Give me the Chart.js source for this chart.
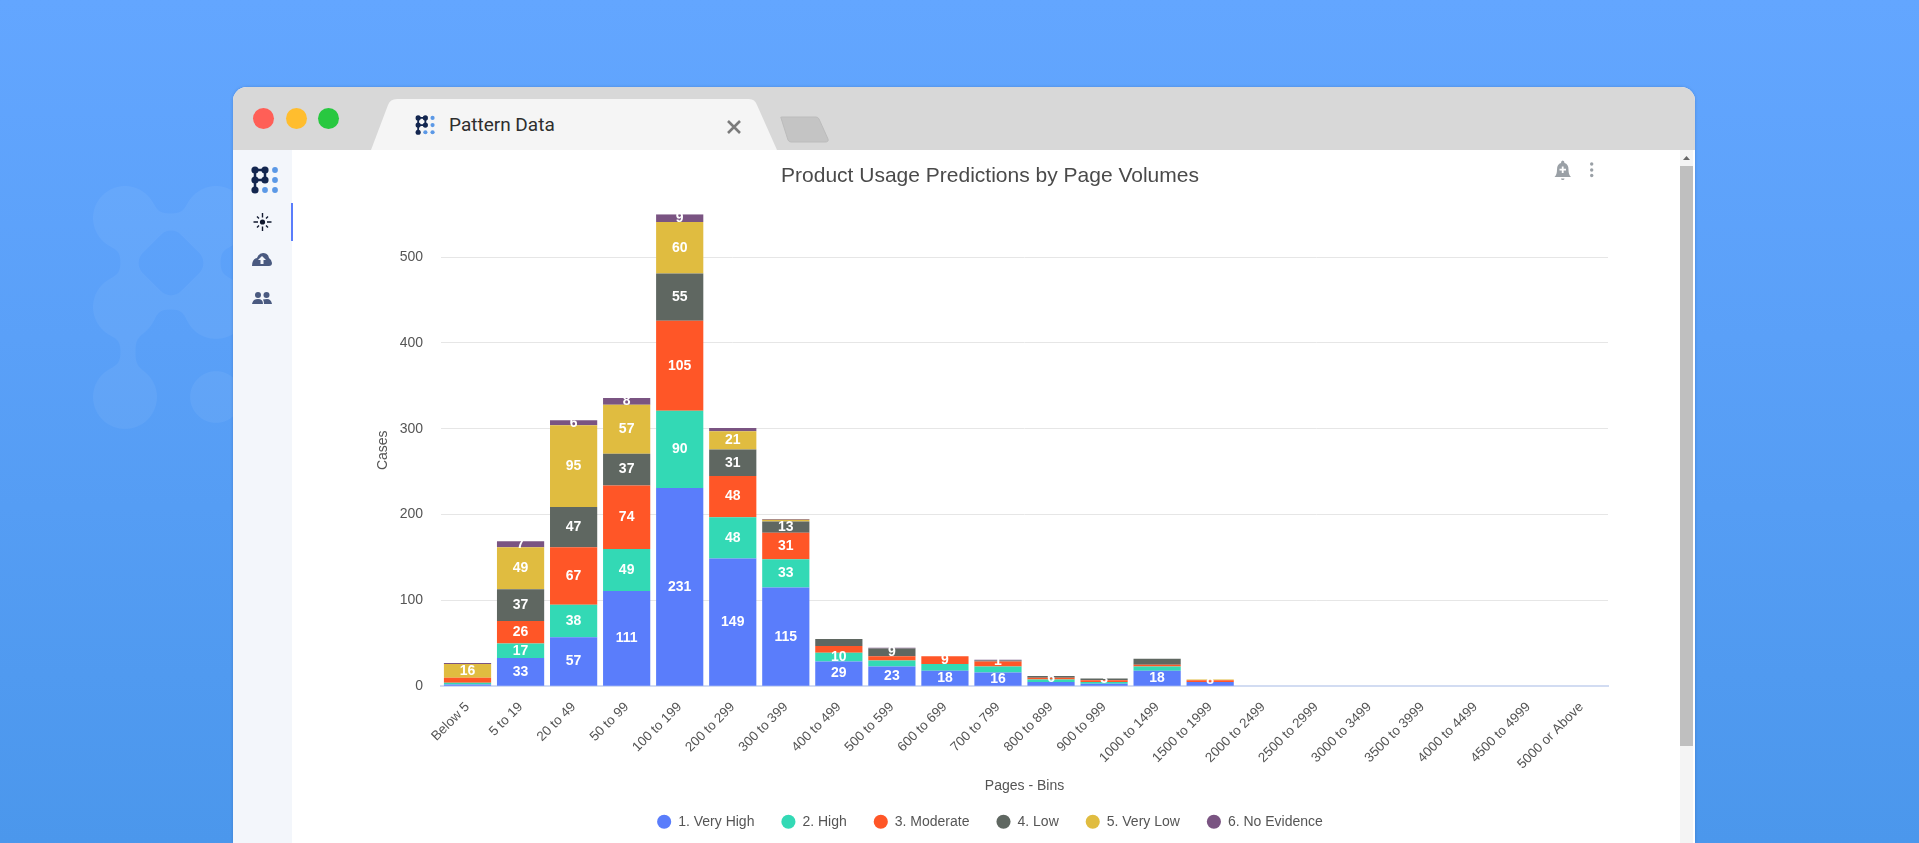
<!DOCTYPE html>
<html>
<head>
<meta charset="utf-8">
<title>Pattern Data</title>
<script src="https://cdn.jsdelivr.net/npm/chart.js@4"></script>
<style>
  html, body { margin: 0; padding: 0; width: 1919px; height: 843px; overflow: hidden; }
  body { position: relative; background: linear-gradient(180deg, #63a6ff 0%, #5aa0f8 40%, #4b97ec 100%); font-family: "Liberation Sans", Arial, sans-serif; }
  #mark { position: absolute; left: 0; top: 0; }
  .window { position: absolute; left: 233px; top: 87px; width: 1462px; height: 756px; background: #fff; border-radius: 14px 14px 0 0; overflow: hidden; box-shadow: 0 0 3px rgba(40, 80, 140, .35); }
  .toolbar { position: absolute; left: 0; top: 0; width: 100%; height: 63px; background: #d8d8d8; }
  .light { position: absolute; top: 21px; width: 21px; height: 21px; border-radius: 50%; }
  .tab-name { position: absolute; left: 216px; top: 26px; font: 19px Roboto, sans-serif; color: #2e2e2e; }
  .sidebar { position: absolute; left: 0; top: 63px; width: 59px; height: 693px; background: #f3f6fb; }
  .active { position: absolute; left: 58px; top: 53px; width: 1.5px; height: 38px; background: #5a7dfb; }
  .scrollbar { position: absolute; left: 1447px; top: 63px; width: 13px; height: 693px; background: #f4f4f4; }
  .thumb { position: absolute; left: 0; top: 16px; width: 13px; height: 580px; background: #bfbfbf; }
  #holder { position: absolute; left: 292px; top: 150px; width: 1396px; height: 693px; }
  svg { position: absolute; overflow: visible; }
</style>
</head>
<body>
<svg id="mark" width="240" height="500">
  <defs>
    <filter id="goo" x="-10%" y="-10%" width="120%" height="120%">
      <feGaussianBlur stdDeviation="6"/>
      <feComponentTransfer><feFuncA type="linear" slope="14" intercept="-6"/></feComponentTransfer>
    </filter>
    <mask id="holes" maskUnits="userSpaceOnUse" x="0" y="0" width="240" height="500">
      <rect x="0" y="0" width="240" height="500" fill="#fff"/>
      <rect x="144" y="236" width="54" height="54" rx="14" transform="rotate(45 171 263)" fill="#000"/>
      <rect x="144" y="325" width="54" height="54" rx="14" transform="rotate(45 171 352)" fill="#000"/>
    </mask>
  </defs>
  <g opacity="0.05" mask="url(#holes)">
    <g fill="#fff" filter="url(#goo)">
      <circle cx="125" cy="218" r="32"/><circle cx="216" cy="218" r="32"/>
      <circle cx="125" cy="307" r="32"/><circle cx="216" cy="307" r="32"/>
      <circle cx="125" cy="397" r="32"/><circle cx="216" cy="397" r="26"/>
      <rect x="121" y="214" width="99" height="95"/>
      <rect x="121" y="307" width="14" height="90"/>
    </g>
  </g>
</svg>

<div class="window">
  <div class="toolbar">
    <div class="light" style="left:20px;background:#ff5f57"></div>
    <div class="light" style="left:53px;background:#ffbd2e"></div>
    <div class="light" style="left:85px;background:#28c840"></div>
    <svg width="1462" height="63" style="left:0;top:0">
      <path d="M138 63 L155 18 Q157 12 164 12 L516 12 Q522 12 524 18 L544 63 Z" fill="#f5f5f5"/>
      <path d="M548 31 Q547 30 549 30 L583 30 Q585 30 586 32 L595 52 Q596 55 592 55 L558 55 Q556 55 555 53 Z" fill="#c4c4c4" stroke="#bcbcbc"/>
      <path d="M495 34 L507 46 M507 34 L495 46" stroke="#7b7b7b" stroke-width="2.6" fill="none"/>
      <g transform="translate(183 28) scale(.72)">
        <path d="M3 4 H13 V14 H3 Z M3 14 V24" stroke="#13264f" stroke-width="2.5" fill="none"/>
        <g fill="#13264f"><circle cx="3" cy="4" r="3.6"/><circle cx="13" cy="4" r="3.6"/><circle cx="3" cy="14" r="3.6"/><circle cx="13" cy="14" r="3.6"/><circle cx="3" cy="24" r="3.6"/></g>
        <g fill="#5b98e6"><circle cx="23" cy="4" r="2.9"/><circle cx="23" cy="14" r="2.9"/><circle cx="13" cy="24" r="2.9"/><circle cx="23" cy="24" r="2.9"/></g>
      </g>
    </svg>
    <div class="tab-name">Pattern Data</div>
  </div>
  <div class="sidebar">
    <div class="active"></div>
    <svg width="59" height="300" style="left:0;top:0">
      <g transform="translate(19 16)">
        <path d="M3 4 H13 V14 H3 Z M3 14 V24" stroke="#13264f" stroke-width="2.5" fill="none"/>
        <g fill="#13264f"><circle cx="3" cy="4" r="3.6"/><circle cx="13" cy="4" r="3.6"/><circle cx="3" cy="14" r="3.6"/><circle cx="13" cy="14" r="3.6"/><circle cx="3" cy="24" r="3.6"/></g>
        <g fill="#5b98e6"><circle cx="23" cy="4" r="2.9"/><circle cx="23" cy="14" r="2.9"/><circle cx="13" cy="24" r="2.9"/><circle cx="23" cy="24" r="2.9"/></g>
      </g>
      <g transform="translate(29.5 72)" stroke="#10182e" stroke-width="1.4">
        <circle r="2.6" fill="#10182e" stroke="none"/>
        <path d="M0 -9 V-4.5 M0 4.5 V9 M-9 0 H-4.5 M4.5 0 H9 M-5.5 -5.5 L-3.5 -3.5 M3.5 3.5 L5.5 5.5 M-5.5 5.5 L-3.5 3.5 M3.5 -3.5 L5.5 -5.5"/>
      </g>
      <g transform="translate(29 110)">
        <path d="M-10 6 Q-10 -1 -5 -2 Q-3 -7 1 -7 Q6 -7 7 -2 Q10 0 10 3 Q10 6 7 6 Z" fill="#4a5a80"/>
        <path d="M0 -4 L4 0 H1.5 V4 H-1.5 V0 H-4 Z" fill="#f3f6fb"/>
      </g>
      <g transform="translate(29 148)" fill="#4a5a80">
        <circle cx="-4" cy="-3" r="3"/><circle cx="4.5" cy="-3" r="3"/>
        <path d="M-10 6 Q-9 1 -4 1 Q1 1 1 6 Z M2 6 Q2 3 1 1.5 Q3 1 5 1 Q9 1 10 6 Z"/>
      </g>
    </svg>
  </div>
  <div class="scrollbar">
    <div class="thumb"></div>
    <svg width="13" height="16" style="left:0;top:0"><path d="M3 10 L6.5 6 L10 10 Z" fill="#666"/></svg>
  </div>
</div>

<div id="holder"><canvas id="myChart" width="1396" height="693"></canvas></div>

<svg width="40" height="24" style="left:1552px;top:160px">
  <path d="M2.5 17 Q5 15 5 9.5 Q5 4 9 3 Q9 .5 10.7 .5 Q12.5 .5 12.5 3 Q16.5 4 16.5 9.5 Q16.5 15 19 17 Z M9 18.5 H12.5 Q12.5 20 10.7 20 Q9 20 9 18.5 Z" fill="#9aa0a6"/>
  <path d="M10.7 6.5 V13 M7.5 9.7 H14" stroke="#fff" stroke-width="1.8"/>
  <g fill="#9aa0a6"><circle cx="39.7" cy="4" r="1.7"/><circle cx="39.7" cy="10" r="1.7"/><circle cx="39.7" cy="15.5" r="1.7"/></g>
</svg>

<script>
const categories = ['Below 5', '5 to 19', '20 to 49', '50 to 99', '100 to 199', '200 to 299', '300 to 399', '400 to 499', '500 to 599', '600 to 699', '700 to 799', '800 to 899', '900 to 999', '1000 to 1499', '1500 to 1999', '2000 to 2499', '2500 to 2999', '3000 to 3499', '3500 to 3999', '4000 to 4499', '4500 to 4999', '5000 or Above'];

const seriesNames = ['1. Very High', '2. High', '3. Moderate', '4. Low', '5. Very Low', '6. No Evidence'];
const seriesColors = ['#5a7dfb', '#33d9b5', '#ff5627', '#5f6761', '#e0bc40', '#7a5482'];

const veryHigh = [2, 33, 57, 111, 231, 149, 115, 29, 23, 18, 16, 5, 3, 18, 5, 0, 0, 0, 0, 0, 0, 0];
const high = [2, 17, 38, 49, 90, 48, 33, 10, 7, 8, 7, 3, 2, 5, 0, 0, 0, 0, 0, 0, 0, 0];
const moderate = [6, 26, 67, 74, 105, 48, 31, 8, 5, 9, 6, 2, 2, 2, 2, 0, 0, 0, 0, 0, 0, 0];
const low = [0, 37, 47, 37, 55, 31, 13, 8, 9, 0, 1, 2, 2, 7, 0, 0, 0, 0, 0, 0, 0, 0];
const veryLow = [16, 49, 95, 57, 60, 21, 2, 0, 0, 0, 0, 0, 0, 0, 1, 0, 0, 0, 0, 0, 0, 0];
const noEvidence = [1, 7, 6, 8, 9, 4, 1, 0, 1, 0, 1, 0, 0, 0, 0, 0, 0, 0, 0, 0, 0, 0];

/* small segments that still carry a label: series, category, text */
const smallLabels = [[3, 10, '1'], [2, 11, '6'], [3, 12, '3'], [4, 14, '8']];

const seriesValues = [veryHigh, high, moderate, low, veryLow, noEvidence];

/* white numbers in the middle of each segment */
const segmentLabels = {
  id: 'segmentLabels',
  afterDatasetsDraw(chart) {
    const ctx = chart.ctx;
    ctx.save();
    ctx.fillStyle = '#fff';
    ctx.font = 'bold 14px "Liberation Sans", Arial, sans-serif';
    ctx.textAlign = 'center';
    ctx.textBaseline = 'middle';
    seriesValues.forEach((values, s) => {
      const bars = chart.getDatasetMeta(s).data;
      values.forEach((value, c) => {
        const small = smallLabels.find((l) => l[0] === s && l[1] === c);
        const limit = s === 5 ? 6 : 9;
        if (!small && value < limit) return;
        const text = small ? small[2] : String(value);
        ctx.fillText(text, bars[c].x, (bars[c].y + bars[c].base) / 2);
      });
    });
    ctx.restore();
  },
};

const labelFont = { family: '"Liberation Sans", Arial, sans-serif', size: 14 };
const tickFont = { family: labelFont.family, size: 13.4 };

new Chart(document.getElementById('myChart'), {
  type: 'bar',
  data: {
    labels: categories,
    datasets: seriesValues.map((values, s) => ({
      label: seriesNames[s],
      data: values,
      backgroundColor: seriesColors[s],
      borderWidth: 0,
      barPercentage: 0.89,
      categoryPercentage: 1,
    })),
  },
  plugins: [segmentLabels],
  options: {
    responsive: false,
    animation: false,
    layout: { padding: { left: 80, right: 80, top: 0, bottom: 4.2 } },
    plugins: {
      tooltip: { enabled: false },
      title: {
        display: true,
        text: 'Product Usage Predictions by Page Volumes',
        color: '#4a4a4a',
        font: { family: labelFont.family, size: 21, weight: 'normal' },
        padding: { top: 13.5, bottom: 25.5 },
      },
      legend: {
        position: 'bottom',
        labels: {
          usePointStyle: true,
          pointStyle: 'circle',
          boxWidth: 14,
          boxHeight: 10,
          padding: 27,
          color: '#555',
          font: labelFont,
        },
      },
    },
    scales: {
      x: {
        stacked: true,
        afterFit: (scale) => { scale.height = 101.5; },
        grid: { display: false },
        border: { color: '#d2dcf2', width: 2 },
        ticks: { autoSkip: false, maxRotation: 45, minRotation: 45, padding: 5, color: '#555', font: tickFont },
        title: { display: true, text: 'Pages - Bins', color: '#555', font: labelFont, padding: { top: 0, bottom: -7 } },
      },
      y: {
        stacked: true,
        min: 0,
        max: 550,
        afterFit: (scale) => { scale.width = 69; },
        afterBuildTicks: (scale) => { scale.ticks = scale.ticks.filter((t) => t.value <= 500); },
        grid: { color: '#e6e6e6', drawTicks: false },
        border: { display: false },
        ticks: { stepSize: 100, padding: 18, color: '#555', font: labelFont },
        title: { display: true, text: 'Cases', color: '#555', font: labelFont, padding: { top: 2.5, bottom: 0 } },
      },
    },
  },
});
</script>
</body>
</html>
